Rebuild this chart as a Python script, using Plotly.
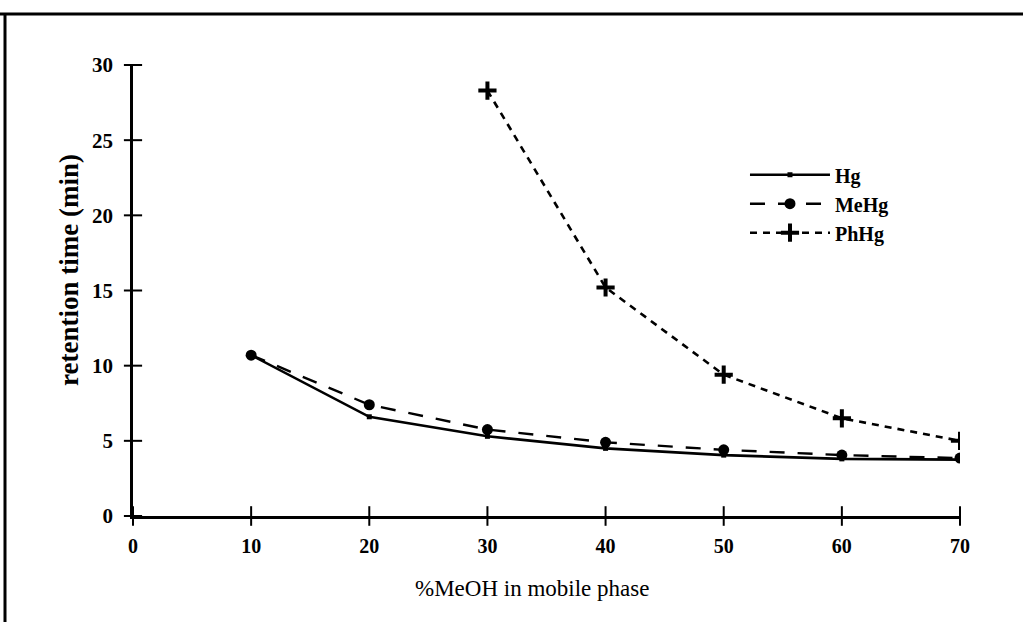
import plotly.graph_objects as go

# Retention time (min) vs. methanol content of the mobile phase
meoh_pct = [10, 20, 30, 40, 50, 60, 70]
hg_rt = [10.7, 6.6, 5.3, 4.5, 4.05, 3.8, 3.75]
mehg_rt = [10.7, 7.4, 5.75, 4.9, 4.4, 4.05, 3.85]
phhg_pct = [30, 40, 50, 60, 70]
phhg_rt = [28.3, 15.2, 9.4, 6.5, 5.0]

x_ticks = [0, 10, 20, 30, 40, 50, 60, 70]
y_ticks = [0, 5, 10, 15, 20, 25, 30]

SERIF = "Liberation Serif, Times New Roman, serif"

# plot area in pixels
L, R, T, B = 133, 63, 65, 106
W, H = 1023, 622
PW, PH = W - L - R, H - T - B

fig = go.Figure()

fig.add_trace(go.Scatter(
    x=meoh_pct, y=hg_rt, name="<b>Hg</b>", mode="lines+markers",
    line=dict(color="black", width=2.6),
    marker=dict(symbol="square", size=5, color="black"),
))
fig.add_trace(go.Scatter(
    x=meoh_pct, y=mehg_rt, name="<b>MeHg</b>", mode="lines+markers",
    line=dict(color="black", width=2.4, dash="15px,13px"),
    marker=dict(symbol="circle", size=11, color="black"),
))
fig.add_trace(go.Scatter(
    x=phhg_pct, y=phhg_rt, name="<b>PhHg</b>", mode="lines+markers",
    line=dict(color="black", width=2.6, dash="7px,6px"),
    marker=dict(symbol="cross-thin", size=13, color="black",
                line=dict(color="black", width=4)),
))

# tick marks that cross the axis lines on both sides
fig.add_trace(go.Scatter(
    x=[0] * len(y_ticks), y=y_ticks, mode="markers", cliponaxis=False,
    marker=dict(symbol="line-ew", size=13, line=dict(color="black", width=2)),
    showlegend=False, hoverinfo="skip",
))
fig.add_trace(go.Scatter(
    x=x_ticks, y=[0] * len(x_ticks), mode="markers", cliponaxis=False,
    marker=dict(symbol="line-ns", size=14, line=dict(color="black", width=2)),
    showlegend=False, hoverinfo="skip",
))

axis_common = dict(showgrid=False, zeroline=False, showline=True,
                   linecolor="black", linewidth=2.5, ticks="")

fig.update_layout(
    width=W, height=H,
    margin=dict(l=L, r=R, t=T, b=B),
    paper_bgcolor="white", plot_bgcolor="white",
    font=dict(family=SERIF, color="black"),
    xaxis=dict(range=[0, 70], tickvals=x_ticks,
               ticktext=[f"<b>{v}</b>" for v in x_ticks],
               tickfont=dict(size=20, family=SERIF),
               ticklabelstandoff=10,
               **axis_common),
    yaxis=dict(range=[0, 30], tickvals=y_ticks,
               ticktext=[f"<b>{v}</b>" for v in y_ticks],
               tickfont=dict(size=21, family=SERIF),
               ticklabelstandoff=13,
               **axis_common),
    legend=dict(x=0.74, y=0.8, xanchor="left", yanchor="top",
                bgcolor="rgba(0,0,0,0)", itemwidth=80,
                font=dict(size=20, family=SERIF)),
    showlegend=True,
    annotations=[
        dict(text="%MeOH in mobile phase", xref="paper", yref="paper",
             x=(532 - L) / PW, y=-(588 - (H - B)) / PH,
             xanchor="center", yanchor="middle", showarrow=False,
             font=dict(size=23, family=SERIF)),
        dict(text="<b>retention time (min)</b>", xref="paper", yref="paper",
             x=-(L - 69) / PW, y=((H - B) - 270) / PH, textangle=-90,
             xanchor="center", yanchor="middle", showarrow=False,
             font=dict(size=27, family=SERIF)),
    ],
)

# page frame along the top and left edges
fig.add_shape(type="line", xref="paper", yref="paper",
              x0=-L / PW, x1=(W - L) / PW,
              y0=1 + 51 / PH, y1=1 + 51 / PH,
              line=dict(color="black", width=3))
fig.add_shape(type="line", xref="paper", yref="paper",
              x0=-(L - 5) / PW, x1=-(L - 5) / PW,
              y0=1 + 51 / PH, y1=-B / PH,
              line=dict(color="black", width=3))

fig.write_html("out.html")
